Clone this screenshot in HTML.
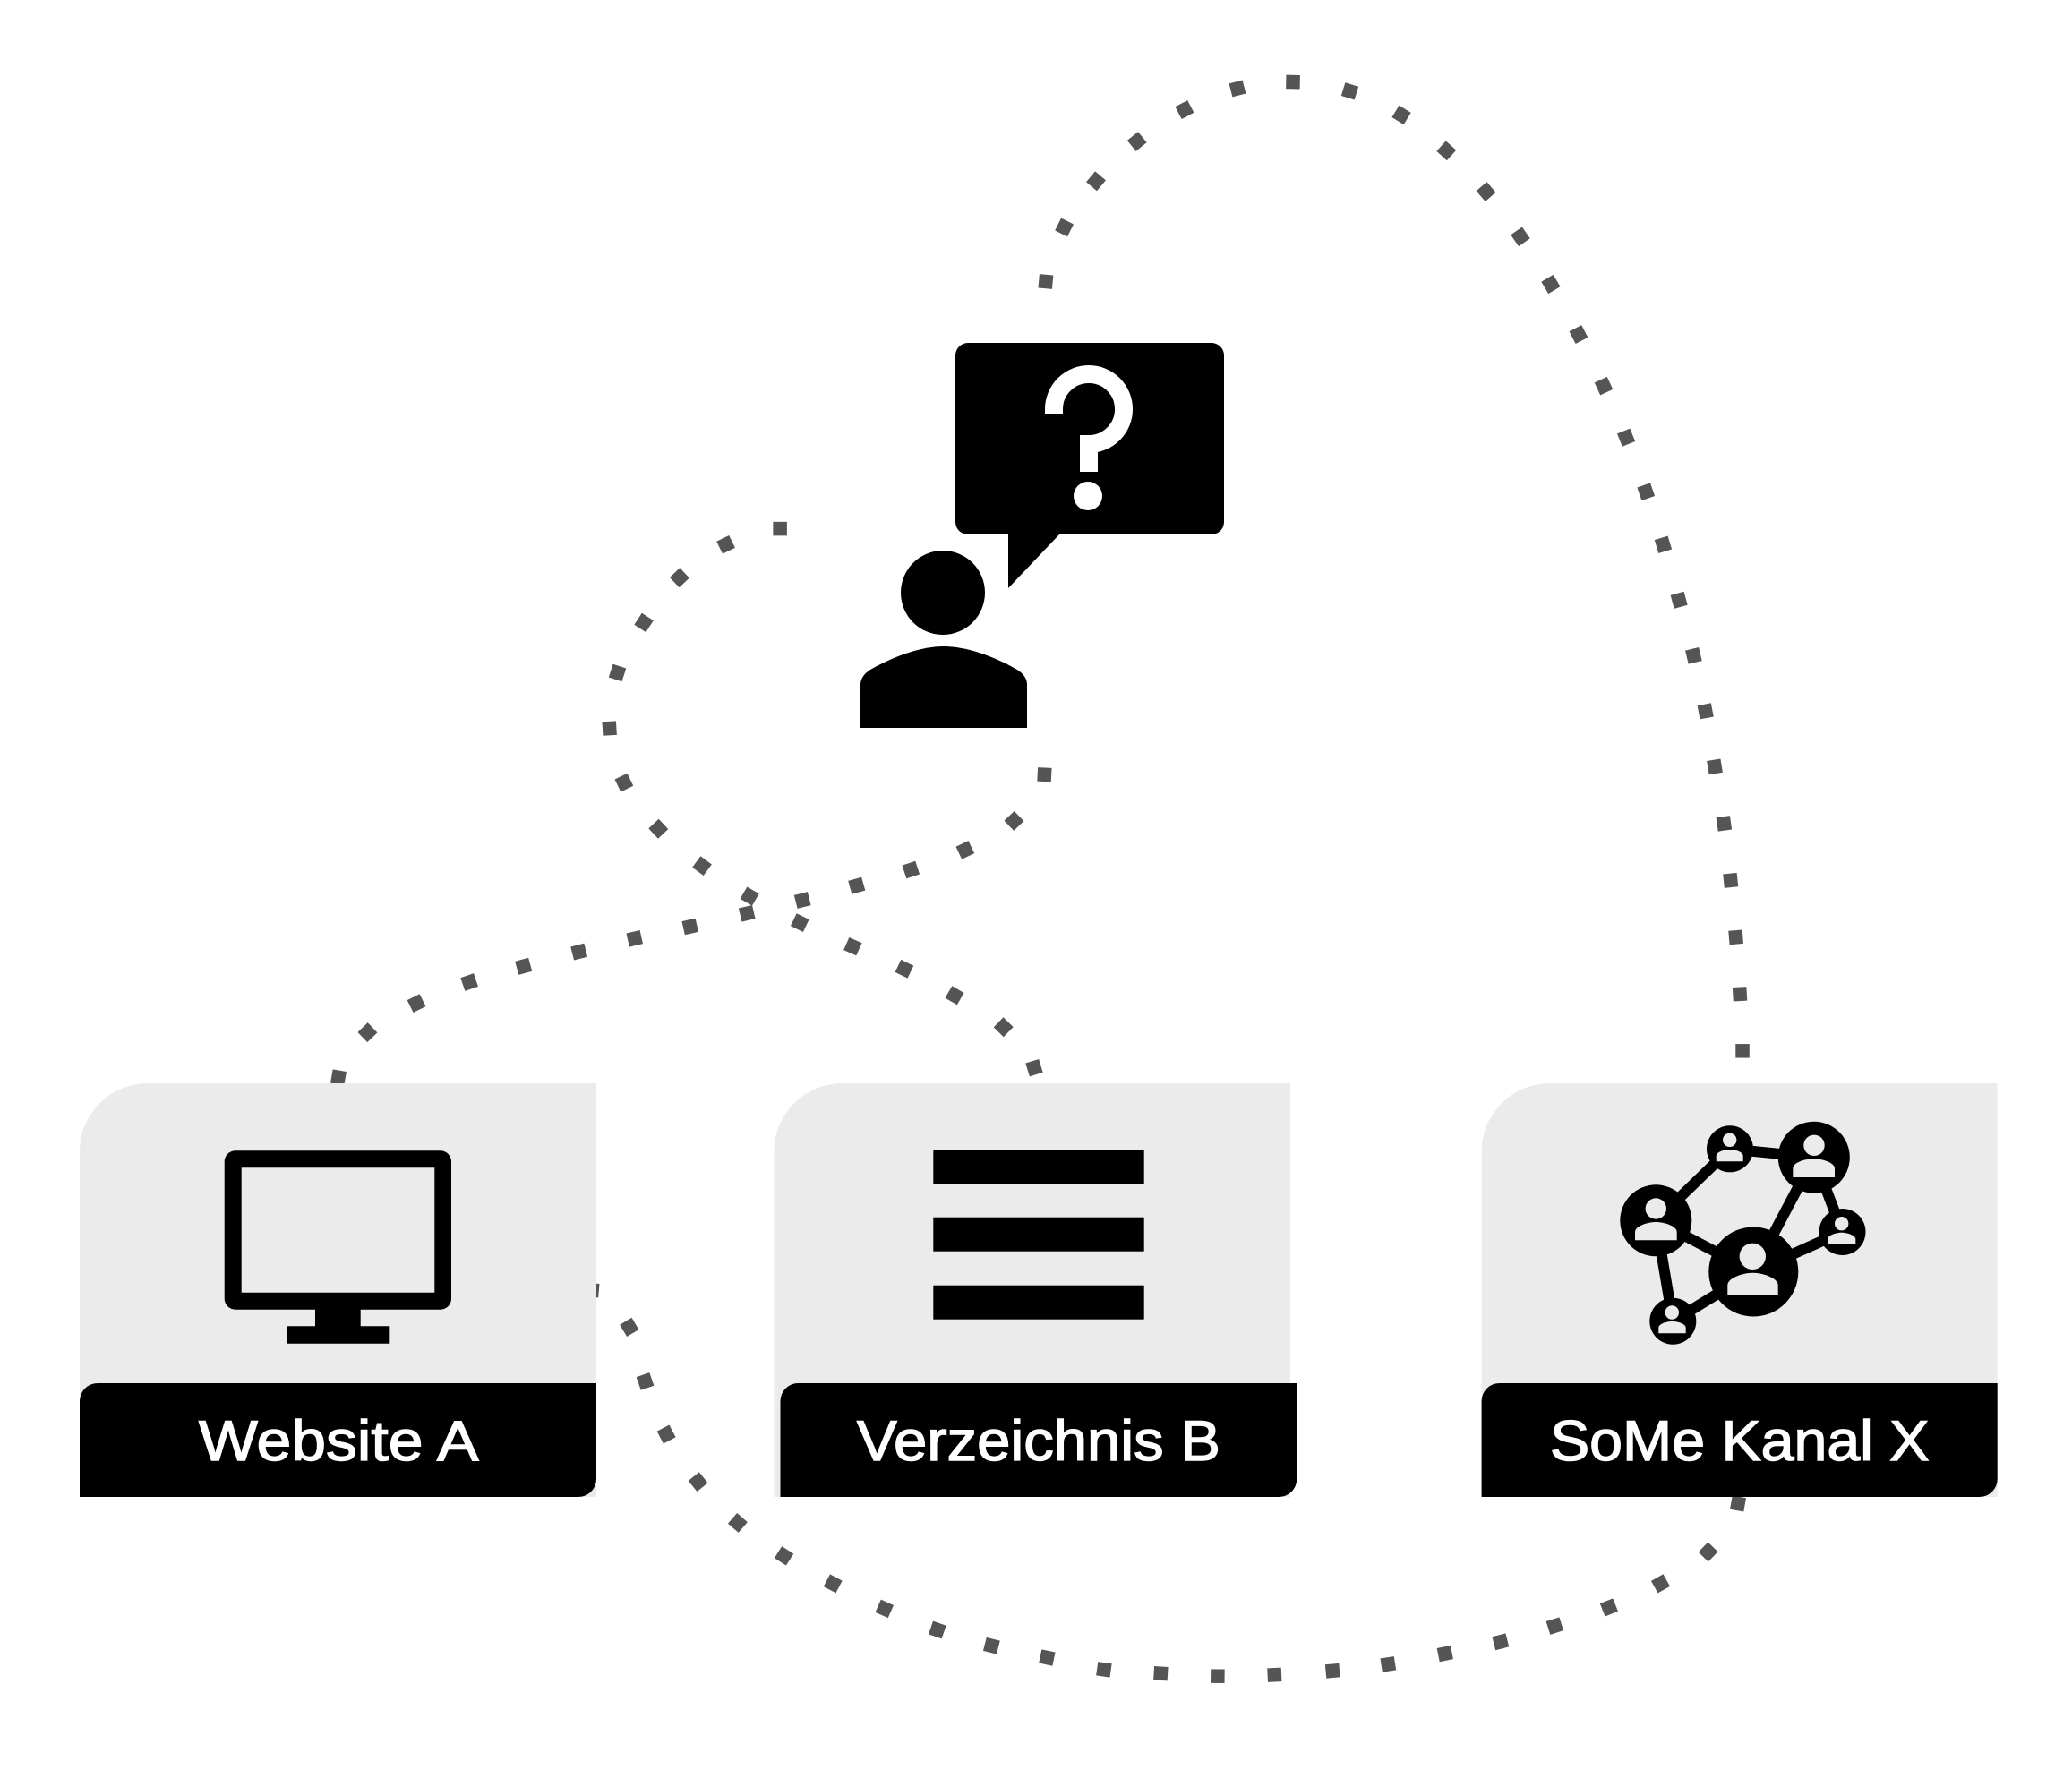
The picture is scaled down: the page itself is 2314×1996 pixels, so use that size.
<!DOCTYPE html>
<html lang="de">
<head>
<meta charset="utf-8">
<title>Diagramm</title>
<style>
html,body{margin:0;padding:0;background:#fff}
svg{display:block}
text{font-family:"Liberation Sans",Arial,sans-serif;font-size:63px;fill:#fff;stroke:#fff;stroke-width:1.4}
</style>
</head>
<body>
<svg xmlns="http://www.w3.org/2000/svg" width="2314" height="1996" viewBox="0 0 2314 1996">
<defs>
<marker id="d" markerUnits="userSpaceOnUse" markerWidth="12" markerHeight="12" refX="6" refY="6" orient="auto" overflow="visible">
<rect x=".75" y=".75" width="10.5" height="10.5" fill="#555"/>
</marker>
</defs>
<rect width="2314" height="1996" fill="#fff"/>

<!-- dotted connectors -->
<g transform="scale(1.4765)">
<g fill="none" stroke="none">
<polyline marker-mid="url(#d)" points="791,213 805,172 829,137 860,107 896,83 936,67 978,62 1021,69 1060,87 1094,114 1124,145 1150,179 1173,215 1194,253 1213,292 1230,331 1245,372 1258,412 1270,454 1281,496 1290,538 1297,580 1304,623 1309,666 1313,709 1316,752 1318,795"/>
<polyline marker-mid="url(#d)" points="590,400 549,412 514,437 487,471 467,509 461,551 472,592 498,627 531,655 567,678 605,698 645,716 684,733 722,753 759,777 783,812"/>
<polyline marker-mid="url(#d)" points="790,586 767,621 730,643 689,658 648,670 607,681 565,691 522,701 480,710 438,720 396,731 355,743 315,759 278,781 256,815"/>
<polyline marker-mid="url(#d)" points="448,976 476,1004 488,1045 504,1085 528,1121 558,1152 593,1177 630,1198 669,1217 709,1233 750,1245 792,1254 835,1263 878,1266 921,1268 964,1267 1008,1264 1050,1259 1093,1251 1135,1242 1176,1230 1217,1216 1256,1198 1292,1174 1314.6,1137.5"/>
</g>
<g fill="#555">
<rect x="785.75" y="207.75" width="10.5" height="10.5" transform="rotate(5 791 213)"/>
<rect x="1312.75" y="789.75" width="10.5" height="10.5"/>
<rect x="584.75" y="394.75" width="10.5" height="10.5"/>
<rect x="777" y="802.5" width="10.5" height="10.5" transform="rotate(-17 782.25 807.75)"/>
<rect x="784.75" y="580.75" width="10.5" height="10.5" transform="rotate(3 790 586)"/>
<rect x="250.75" y="809.75" width="10.5" height="10.5" transform="rotate(10 256 815)"/>
<rect x="442.5" y="970.75" width="10.5" height="10.5" transform="rotate(5 447.75 976)"/>
<rect x="1309.35" y="1132.25" width="10.5" height="10.5" transform="rotate(10 1314.6 1137.5)"/>
</g>
</g>

<!-- person with speech bubble -->
<circle cx="1053" cy="662" r="47"/>
<path d="M961 813V765Q961 755 972 748C1000 732 1030 722 1054 722C1078 722 1108 732 1136 748Q1147 755 1147 765V813Z"/>
<path d="M1081 383H1353A14 14 0 0 1 1367 397V583A14 14 0 0 1 1353 597H1183L1126 657V597H1081A14 14 0 0 1 1067 583V397A14 14 0 0 1 1081 383Z"/>
<path d="M1177 462V457A39 39 0 1 1 1216 496V527" fill="none" stroke="#fff" stroke-width="20"/>
<circle cx="1215" cy="554" r="16" fill="#fff"/>

<!-- card A -->
<path d="M89 1672V1286A76 76 0 0 1 165 1210H666V1672Z" fill="#ebebeb"/>
<path d="M89 1672V1565A20 20 0 0 1 109 1545H666V1652A20 20 0 0 1 646 1672Z" fill="#000"/>
<path d="M262.7 1285.3H492A12 12 0 0 1 504 1297.3V1450.7A12 12 0 0 1 492 1462.7H402.7V1481.3H434.3V1500.7H320.3V1481.3H352V1462.7H262.7A12 12 0 0 1 250.7 1450.7V1297.3A12 12 0 0 1 262.7 1285.3ZM269.7 1304.3V1443.7H485.3V1304.3Z" fill-rule="evenodd"/>
<text x="222" y="1631" textLength="312.5" lengthAdjust="spacingAndGlyphs">Website A</text>

<!-- card B -->
<path d="M864.5 1672V1286A76 76 0 0 1 940.5 1210H1441V1672Z" fill="#ebebeb"/>
<path d="M871.5 1672V1565A20 20 0 0 1 891.5 1545H1448.3V1652A20 20 0 0 1 1428.3 1672Z" fill="#000"/>
<rect x="1042.3" y="1284" width="235.4" height="38"/>
<rect x="1042.3" y="1359.7" width="235.4" height="38"/>
<rect x="1042.3" y="1435.7" width="235.4" height="38"/>
<text x="957" y="1631" textLength="406" lengthAdjust="spacingAndGlyphs">Verzeichnis B</text>

<!-- card C -->
<path d="M1654.6 1672V1286A76 76 0 0 1 1730.6 1210H2230.7V1672Z" fill="#ebebeb"/>
<path d="M1654.6 1672V1565A20 20 0 0 1 1674.6 1545H2230.7V1652A20 20 0 0 1 2210.7 1672Z" fill="#000"/>
<g stroke="#000" stroke-width="12">
<line x1="1849.3" y1="1363.3" x2="1932" y2="1283.3"/>
<line x1="1932" y1="1283.3" x2="2025.8" y2="1292.7"/>
<line x1="2025.8" y1="1292.7" x2="2057.5" y2="1376"/>
<line x1="2057.5" y1="1376" x2="1958.3" y2="1420.5"/>
<line x1="1849.3" y1="1363.3" x2="1958.3" y2="1420.5"/>
<line x1="1849.3" y1="1363.3" x2="1868.3" y2="1475.7"/>
<line x1="1868.3" y1="1475.7" x2="1958.3" y2="1420.5"/>
<line x1="2025.8" y1="1292.7" x2="1958.3" y2="1420.5"/>
</g>
<circle cx="1958.3" cy="1420.5" r="50"/>
<circle cx="2025.8" cy="1292.7" r="40"/>
<circle cx="1849.3" cy="1363.3" r="40"/>
<circle cx="1932" cy="1283.3" r="26"/>
<circle cx="2057.5" cy="1376" r="26"/>
<circle cx="1868.3" cy="1475.7" r="26"/>
<g fill="#ebebeb">
<circle cx="1957.3" cy="1403.3" r="14.7"/>
<path d="M1929.3 1446.7V1435.5C1929.3 1428 1945 1421.7 1957.5 1421.7C1970 1421.7 1985.7 1428 1985.7 1435.5V1446.7Z"/>
<circle cx="2026" cy="1279.3" r="11.7"/>
<path d="M2002.3 1315V1305C2002.3 1299 2015 1294.3 2025.7 1294.3C2036 1294.3 2049 1299 2049 1305V1315Z"/>
<circle cx="1849.3" cy="1350" r="11.7"/>
<path d="M1826 1385.3V1376C1826 1370 1839 1365 1849.3 1365C1859.7 1365 1872.7 1370 1872.7 1376V1385.3Z"/>
<circle cx="1931.7" cy="1273.3" r="7.7"/>
<path d="M1916.7 1297.3V1291C1916.7 1287 1925 1284 1931.7 1284C1938.5 1284 1946.7 1287 1946.7 1291V1297.3Z"/>
<circle cx="2056.7" cy="1366.7" r="7.7"/>
<path d="M2041 1390V1384C2041 1380 2050 1376.7 2056.7 1376.7C2063.4 1376.7 2072.3 1380 2072.3 1384V1390Z"/>
<circle cx="1867.3" cy="1466" r="7.7"/>
<path d="M1852.3 1489.3V1483C1852.3 1479 1860.5 1476 1867.5 1476C1874.5 1476 1882.7 1479 1882.7 1483V1489.3Z"/>
</g>
<text x="1731" y="1631" textLength="423.5" lengthAdjust="spacingAndGlyphs">SoMe Kanal X</text>
</svg>
</body>
</html>
